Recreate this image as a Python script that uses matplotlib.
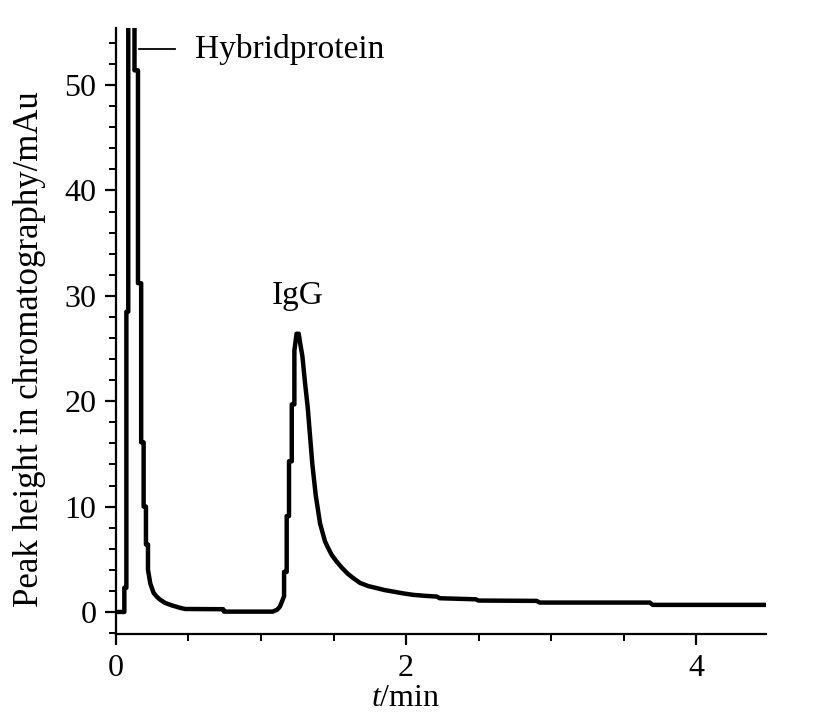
import matplotlib.pyplot as plt
from matplotlib.ticker import MultipleLocator

plt.rcParams['font.family'] = ['Liberation Serif', 'DejaVu Serif']
plt.rcParams['mathtext.fontset'] = 'custom'
plt.rcParams['mathtext.rm'] = 'Liberation Serif'
plt.rcParams['mathtext.it'] = 'Liberation Serif:italic'

# chromatogram vertices (repeated t = vertical step)
t_min = [0.0, 0.058, 0.058, 0.072, 0.072, 0.085, 0.085, 0.128, 0.128,
         0.152, 0.152, 0.174, 0.174, 0.191, 0.191, 0.207, 0.207, 0.221,
         0.221, 0.237, 0.26, 0.285, 0.306, 0.34, 0.386, 0.445, 0.478,
         0.74, 0.745, 1.08, 1.11, 1.13, 1.145, 1.159, 1.159, 1.177, 1.177,
         1.193, 1.193, 1.212, 1.212, 1.230, 1.230, 1.245, 1.26, 1.27,
         1.285, 1.303, 1.322, 1.338, 1.354, 1.377, 1.407, 1.441, 1.465,
         1.488, 1.52, 1.557, 1.60, 1.637, 1.683, 1.74, 1.798, 1.85, 1.912,
         1.98, 2.05, 2.13, 2.212, 2.232, 2.48, 2.50, 2.90, 2.92, 3.68,
         3.70, 4.48]
height = [0.0, 0.0, 2.3, 2.3, 28.5, 28.5, 80.0, 80.0, 51.4,
          51.4, 31.2, 31.2, 16.1, 16.1, 10.0, 10.0, 6.4, 6.4,
          4.0, 2.7, 1.8, 1.4, 1.15, 0.85, 0.62, 0.38, 0.28,
          0.26, 0.03, 0.03, 0.2, 0.5, 1.0, 1.5, 3.8, 3.8, 9.1,
          9.1, 14.3, 14.3, 19.7, 19.7, 24.8, 26.4, 26.4, 25.5,
          24.3, 21.8, 19.4, 16.7, 14.0, 11.1, 8.4, 6.7, 6.0,
          5.4, 4.8, 4.2, 3.6, 3.2, 2.75, 2.45, 2.26, 2.08, 1.93,
          1.76, 1.62, 1.53, 1.46, 1.3, 1.2, 1.08, 1.05, 0.89, 0.89,
          0.67, 0.67]

fig = plt.figure(figsize=(8.28, 7.23), dpi=100)
ax = fig.add_axes([0.140, 0.123, 0.785, 0.838])

ax.plot(t_min, height, color='black', lw=3.2, solid_joinstyle='round')

ax.set_xlim(0, 4.48)
ax.set_ylim(-2.1, 55.4)
ax.xaxis.set_major_locator(MultipleLocator(2))
ax.xaxis.set_minor_locator(MultipleLocator(0.5))
ax.yaxis.set_major_locator(MultipleLocator(10))
ax.yaxis.set_minor_locator(MultipleLocator(2))

for s in ['top', 'right']:
    ax.spines[s].set_visible(False)
for s in ['left', 'bottom']:
    ax.spines[s].set_linewidth(1.6)

ax.tick_params(which='major', direction='out', length=8, width=1.6,
               labelsize=23, pad=6)
ax.tick_params(which='minor', direction='out', length=5, width=1.4)

ax.set_xlabel('$t$/min', fontsize=23)
ax.set_ylabel('Peak height in chromatography/mAu', fontsize=25)
ax.xaxis.set_label_coords(0.445, -0.082)
ax.yaxis.set_label_coords(-0.108, 0.47)

# peak labels
ax.plot([0.16, 0.41], [53.4, 53.4], color='black', lw=1.3)
ax.text(0.545, 53.4, 'Hybridprotein', fontsize=24, va='center', ha='left')
ax.text(1.25, 30.0, 'IgG', fontsize=24, va='center', ha='center')

fig.savefig('out.png', dpi=100)
